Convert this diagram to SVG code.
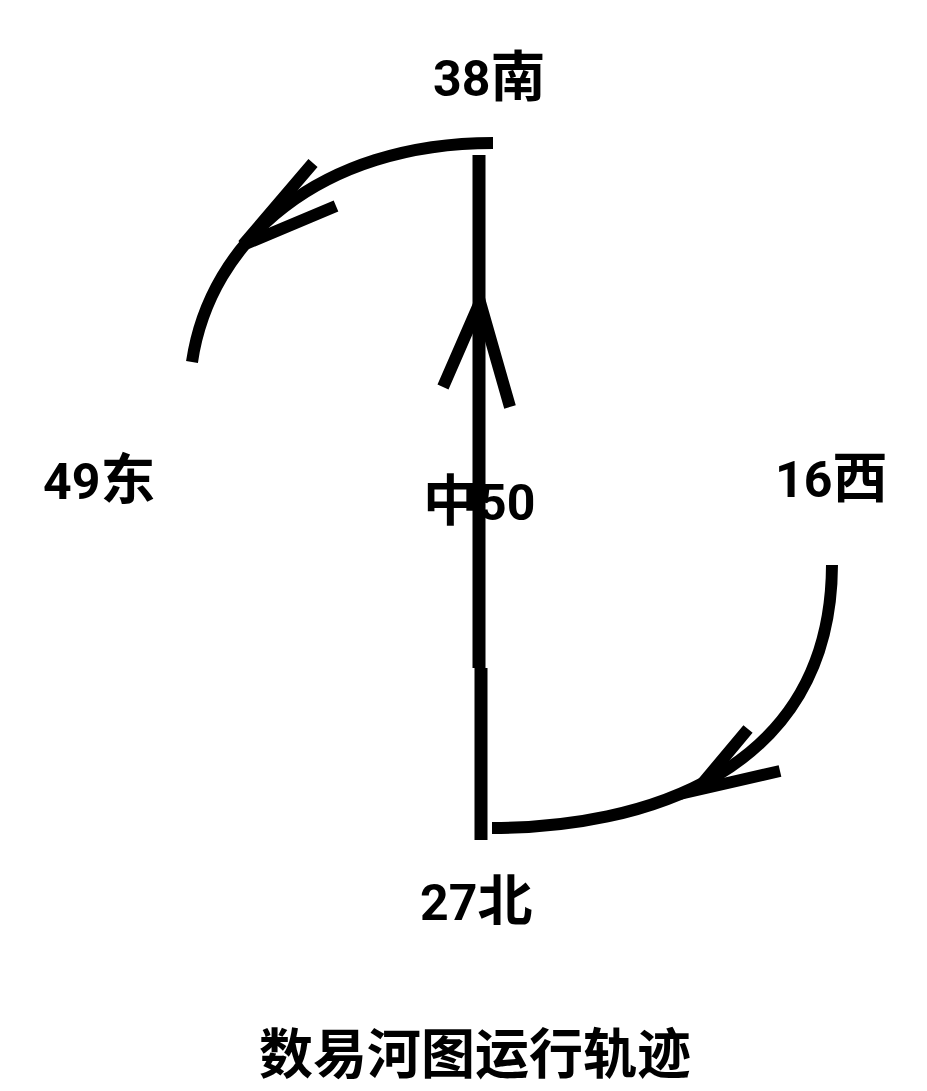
<svg xmlns="http://www.w3.org/2000/svg" width="927" height="1091" viewBox="0 0 927 1091">
<style>
.ln{fill:none;stroke:#000;stroke-width:12;stroke-linecap:butt}
.lb{font-family:Roboto,"Noto Sans CJK SC",sans-serif;font-weight:bold;font-size:50px;fill:#000}
.cj{font-family:"Noto Sans CJK SC",sans-serif;font-size:55px}
.tt{font-family:"Noto Sans CJK SC",sans-serif;font-weight:bold;font-size:54px;fill:#000;text-anchor:middle}
</style>
<rect width="927" height="1091" fill="#fff"/>
<g id="connectors">
<path class="ln" d="M192,362 C210,240 320,143 493,143"/>
<path class="ln" d="M313,163 L243,245 L336,206"/>
<path class="ln" d="M479,155 L479,668 M481,668 L481,840" style="stroke-width:13"/>
<path class="ln" d="M443,387 L480,302 L510,407"/>
<path class="ln" d="M832,565 C831,775 640,828 492,828"/>
<path class="ln" d="M748,729 L697,790 L780,771"/>
</g>
<g id="n-south"><text class="lb" x="433" y="96">38<tspan class="cj">南</tspan></text></g>
<g id="n-east"><text class="lb" x="43" y="499">49<tspan class="cj">东</tspan></text></g>
<g id="n-center"><text class="lb" x="423" y="520"><tspan class="cj">中</tspan>50</text></g>
<g id="n-west"><text class="lb" x="775" y="497">16<tspan class="cj">西</tspan></text></g>
<g id="n-north"><text class="lb" x="420" y="920">27<tspan class="cj">北</tspan></text></g>
<g id="title"><text class="tt" x="475" y="1074">数易河图运行轨迹</text></g>
</svg>
